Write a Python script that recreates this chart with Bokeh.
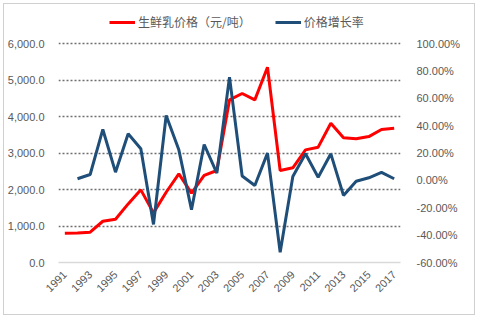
from bokeh.plotting import figure
from bokeh.models import (ColumnDataSource, Range1d, LinearAxis, FixedTicker,
                          NumeralTickFormatter, Legend, LegendItem)
from bokeh.embed import file_html
from bokeh.resources import INLINE
import math

years = list(range(1991, 2018))
price = [800, 805, 830, 1130, 1185, 1605, 1990, 1360, 1925, 2430, 1900, 2385, 2520,
         4455, 4630, 4455, 5350, 2520, 2595, 3085, 3160, 3815, 3415, 3390, 3450, 3645, 3680]
growth_years = list(range(1992, 2018))
growth_pct = [1.2, 4.3, 37.2, 6.0, 34.0, 23.1, -32.2, 47.4, 22.3, -21.5, 26.2, 5.3, 75.4,
              3.2, -3.7, 19.9, -52.5, 2.8, 19.4, 2.3, 19.4, -11.0, -0.6, 1.9, 5.8, 1.2]
left_ticks = [0, 1000, 2000, 3000, 4000, 5000, 6000]
right_ticks = [-0.6, -0.4, -0.2, 0.0, 0.2, 0.4, 0.6, 0.8, 1.0]
year_ticks = list(range(1991, 2018, 2))

FONT = "Liberation Sans"
GRAY = "#595959"

# frame spans from ~y=8 to y=262 in the page; 6000 sits at y=43
TOP_FRAC = 254 / 219
p = figure(width=472, height=312, output_backend="svg", toolbar_location=None,
           x_range=Range1d(1990.5, 2017.5), y_range=Range1d(0, 6000 * TOP_FRAC),
           min_border_left=53, min_border_right=76, min_border_top=4, min_border_bottom=54)
p.styles = {"border": "1px solid #d0d0d0", "margin-left": "3px", "margin-top": "3px"}
p.outline_line_color = None
p.extra_y_ranges = {"pct": Range1d(-0.6, -0.6 + 1.6 * TOP_FRAC)}

src_p = ColumnDataSource(dict(x=years, y=price))
src_g = ColumnDataSource(dict(x=growth_years, y=[v / 100 for v in growth_pct]))

r1 = p.line("x", "y", source=src_p, line_color="#ff0000", line_width=3)
r2 = p.line("x", "y", source=src_g, line_color="#1f4e79", line_width=3, y_range_name="pct")

# grid
p.xgrid.grid_line_color = None
p.ygrid.ticker = FixedTicker(ticks=left_ticks[1:])
p.ygrid.grid_line_color = "#6e6e6e"
p.ygrid.grid_line_dash = "2 2"
p.ygrid.grid_line_width = 1.5

# left axis
la = p.yaxis[0]
la.ticker = FixedTicker(ticks=left_ticks)
la.formatter = NumeralTickFormatter(format="0,0.0")
la.axis_line_color = None
la.major_tick_line_color = None
la.minor_tick_line_color = None
la.major_label_text_font = FONT
la.major_label_text_font_size = "11px"
la.major_label_text_color = GRAY
la.major_label_standoff = 8

# right axis
ra = LinearAxis(y_range_name="pct", ticker=FixedTicker(ticks=right_ticks),
                formatter=NumeralTickFormatter(format="0.00%"))
ra.axis_line_color = None
ra.major_tick_line_color = None
ra.minor_tick_line_color = None
ra.major_label_text_font = FONT
ra.major_label_text_font_size = "11px"
ra.major_label_text_color = GRAY
ra.major_label_standoff = 10
p.add_layout(ra, "right")

# bottom axis
xa = p.xaxis[0]
xa.ticker = FixedTicker(ticks=year_ticks)
xa.axis_line_color = "#d9d9d9"
xa.axis_line_width = 1.5
xa.major_tick_line_color = None
xa.minor_tick_line_color = None
xa.major_label_orientation = math.pi / 4
xa.major_label_text_font = FONT
xa.major_label_text_font_size = "11px"
xa.major_label_text_color = GRAY
xa.major_label_standoff = 4

legend = Legend(items=[LegendItem(label="生鲜乳价格（元/吨）", renderers=[r1]),
                       LegendItem(label="价格增长率", renderers=[r2])],
                orientation="horizontal", location=(51, 232),
                label_text_font="Noto Sans CJK SC", label_text_font_size="12px",
                label_text_color=GRAY, glyph_width=26, glyph_height=12,
                spacing=24, padding=4, margin=0, border_line_color=None,
                background_fill_alpha=0, label_standoff=3)
p.add_layout(legend, "center")

open("out.html", "w").write(file_html(p, INLINE))
